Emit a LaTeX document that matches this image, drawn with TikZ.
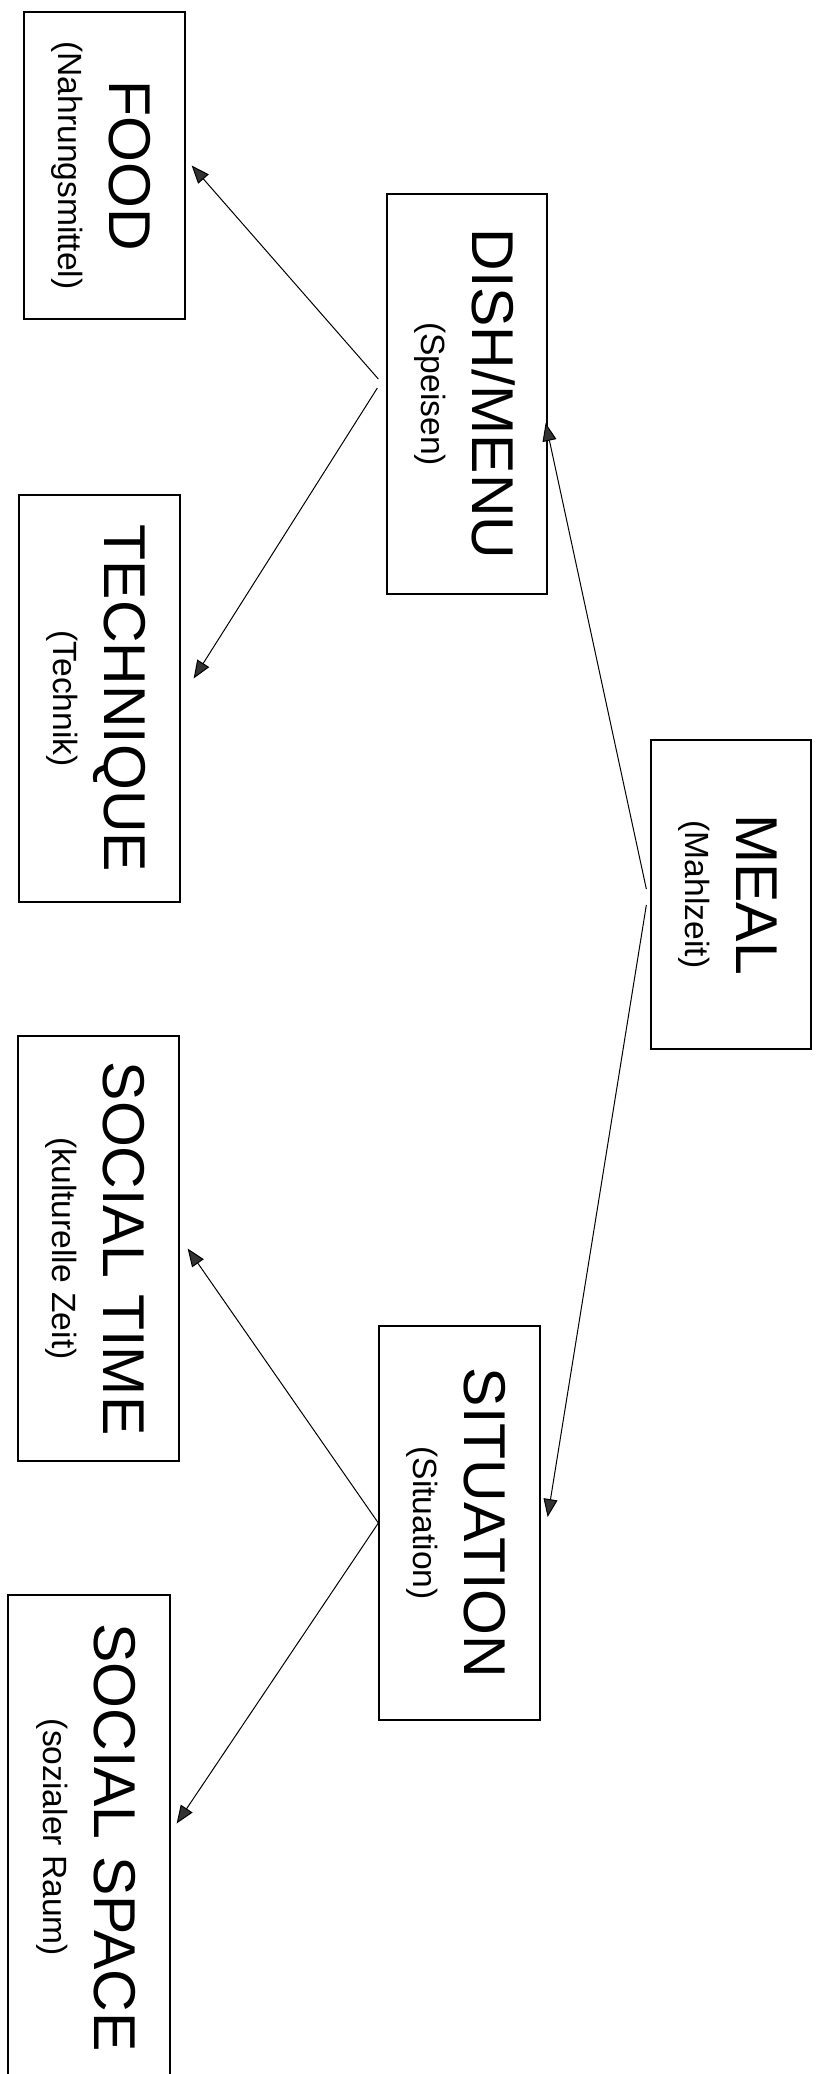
\documentclass[tikz,border=0pt]{standalone}
\usepackage{fontspec}
\setmainfont{Liberation Sans}
\usetikzlibrary{arrows.meta}
\newcommand{\bigword}[1]{{\fontsize{29.5}{25.5}\selectfont\rule{0pt}{23.5pt}#1}}
\begin{document}
\begin{tikzpicture}[x=0.5pt,y=-0.5pt,
  term/.style={draw, rectangle, rotate=-90, inner sep=0pt, line width=0.65pt, align=center, font=\fontsize{16.8}{25.5}\selectfont},
  link/.style={-{Triangle[length=9pt,width=7pt,fill=black!80]}, line width=0.5pt}]
\useasboundingbox (0,0) rectangle (824,2074);

\node (food)  at (104.5,165.5) [term, minimum width=153.5pt, minimum height=80.5pt] {\bigword{FOOD}\\(Nahrungsmittel)};
\node (tech)  at (99.5,698.5)  [term, minimum width=203.5pt, minimum height=80.5pt] {\bigword{TECHNIQUE}\\(Technik)};
\node (time)  at (98.5,1248.5) [term, minimum width=212.5pt, minimum height=80.5pt] {\bigword{SOCIAL TIME}\\(kulturelle Zeit)};
\node (space) at (89,1837.5)   [term, minimum width=242.5pt, minimum height=81pt]   {\bigword{SOCIAL SPACE}\\(sozialer Raum)};

\node (dish) at (467,394)    [term, minimum width=200pt, minimum height=80pt]   {\bigword{DISH/MENU}\\(Speisen)};
\node (meal) at (731,894.5)  [term, minimum width=154.5pt, minimum height=80pt] {\bigword{MEAL}\\(Mahlzeit)};
\node (sit)  at (459.5,1523) [term, minimum width=197pt, minimum height=80.5pt] {\bigword{SITUATION}\\(Situation)};

% meal splits into dish and situation
\draw[link] ([xshift=-2pt,yshift=2.75pt]meal.south) -- ([xshift=-1pt,yshift=-14.5pt]dish.north);
\draw[link] ([xshift=-2pt,yshift=-5.25pt]meal.south) -- ([xshift=3.5pt,yshift=3pt]sit.north);

\draw[link] ([xshift=-4pt,yshift=7.5pt]dish.south) -- ([xshift=3pt]food.north);
\draw[link] ([xshift=-4.5pt,yshift=3pt]dish.south) -- ([xshift=6.5pt,yshift=10pt]tech.north);

\draw[link] (sit.south) -- ([xshift=4pt]time.north);
\draw[link] (sit.south) -- ([xshift=3pt,yshift=7pt]space.north);

\end{tikzpicture}
\end{document}
